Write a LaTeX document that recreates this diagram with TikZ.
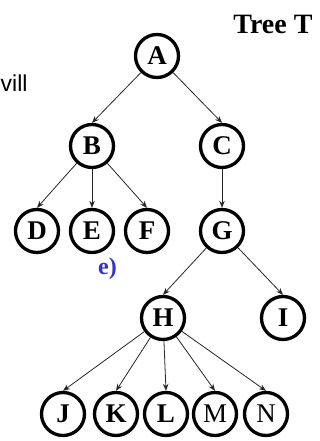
\documentclass[tikz,border=0pt]{standalone}
\usepackage{fontspec}
\setmainfont{Liberation Serif}
\newfontfamily\arialfont{Liberation Sans}
\usetikzlibrary{arrows.meta}
\definecolor{slideblue}{RGB}{51,51,204}
\tikzset{
  vtx/.style={circle, draw=black, line width=3.3pt, minimum size=43pt, inner sep=0pt,
    font=\fontsize{27}{27}\selectfont\bfseries},
  vtxr/.style={vtx, font=\fontsize{27}{27}\selectfont},
  edge/.style={draw=black!85, line width=0.8pt, -{Stealth[length=7pt,width=5.5pt]}}
}
\begin{document}
\begin{tikzpicture}[x=1pt,y=-1pt]
\useasboundingbox (0,0) rectangle (320,441);
\node[anchor=base east, font=\fontsize{28}{28}\selectfont\bfseries] (title) at (316,34) {Tree T};
\node[anchor=base west, inner sep=0pt, font=\arialfont\fontsize{23}{23}\selectfont] (cut1) at (0.5,92) {vill};
\node[anchor=base west, inner sep=0pt, text=slideblue, font=\fontsize{24}{24}\selectfont\bfseries] (cut2) at (98,274) {e)};
\node[vtx] (A) at (157,56) {A};
\node[vtx] (B) at (92,146) {B};
\node[vtx] (C) at (222,146) {C};
\node[vtx] (D) at (37,231) {D};
\node[vtx] (E) at (92,231) {E};
\node[vtx] (F) at (147,231) {F};
\node[vtx] (G) at (222,231) {G};
\node[vtx] (H) at (163,318) {H};
\node[vtx] (I) at (283,318) {I};
\node[vtx] (J) at (63,414) {J};
\node[vtx] (K) at (116,414) {K};
\node[vtx] (L) at (166,414) {L};
\node[vtxr] (M) at (215,414) {M};
\node[vtxr] (N) at (266,414) {N};
\draw[edge] (A) -- (B.north);
\draw[edge] (A) -- (C.north);
\draw[edge] (B) -- (D.north);
\draw[edge] (B) -- (E.north);
\draw[edge] (B) -- (F.north);
\draw[edge] (C) -- (G.north);
\draw[edge] (G) -- (H.north);
\draw[edge] (G) -- (I.north);
\draw[edge] (H) -- (J.north);
\draw[edge] (H) -- (K.north);
\draw[edge] (H) -- (L.north);
\draw[edge] (H) -- (M.north);
\draw[edge] (H) -- (N.north);
\end{tikzpicture}
\end{document}
